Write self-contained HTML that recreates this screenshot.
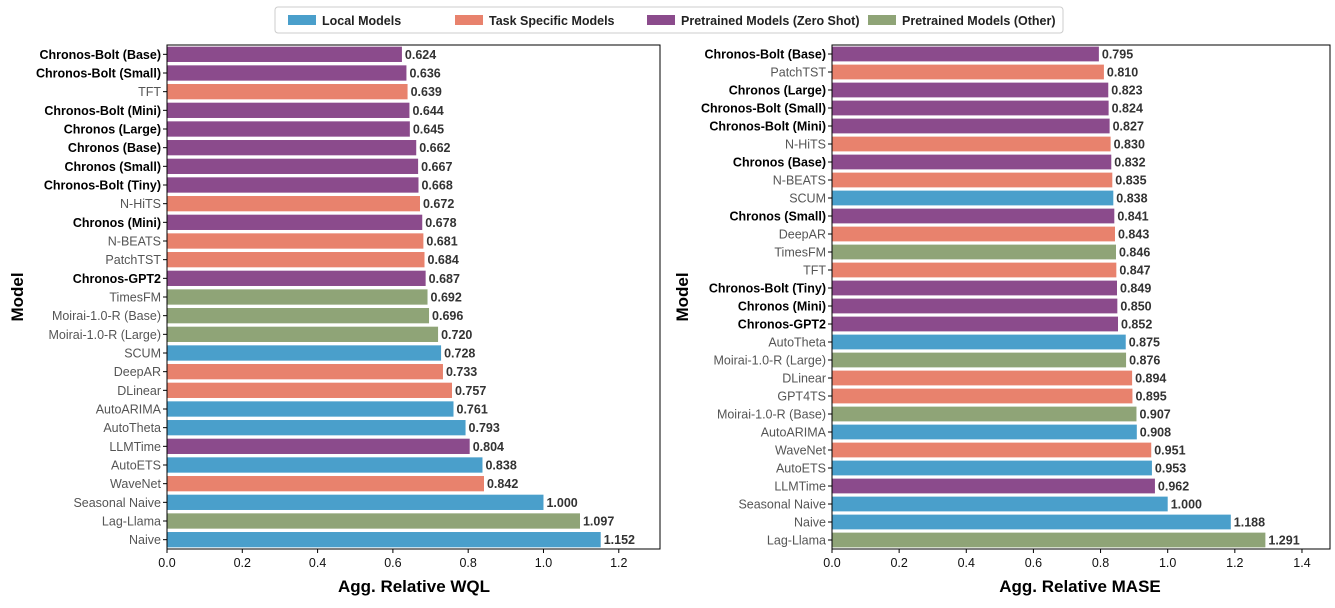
<!DOCTYPE html>
<html><head><meta charset="utf-8"><style>
body{margin:0;background:#fff;}
svg text{font-family:"Liberation Sans",sans-serif;}
</style></head><body>
<svg id="chart" width="1335" height="603" xmlns="http://www.w3.org/2000/svg">
<g id="legend">
<rect x="275" y="7" width="788" height="26" fill="#fff" stroke="#ccc" rx="3"/>
</g>
<g id="left"></g>
<g id="right"></g>
</svg>
<script>
const colors = {L:'#4a9fcb', T:'#e8826d', Z:'#8b4b8c', O:'#8fa477'};
const legendLabels = ['Local Models','Task Specific Models','Pretrained Models (Zero Shot)','Pretrained Models (Other)'];
const legendKeys = ['L','T','Z','O'];

const wqlModels = ['Chronos-Bolt (Base)','Chronos-Bolt (Small)','TFT','Chronos-Bolt (Mini)','Chronos (Large)','Chronos (Base)','Chronos (Small)','Chronos-Bolt (Tiny)','N-HiTS','Chronos (Mini)','N-BEATS','PatchTST','Chronos-GPT2','TimesFM','Moirai-1.0-R (Base)','Moirai-1.0-R (Large)','SCUM','DeepAR','DLinear','AutoARIMA','AutoTheta','LLMTime','AutoETS','WaveNet','Seasonal Naive','Lag-Llama','Naive'];
const wqlValues = [0.624,0.636,0.639,0.644,0.645,0.662,0.667,0.668,0.672,0.678,0.681,0.684,0.687,0.692,0.696,0.720,0.728,0.733,0.757,0.761,0.793,0.804,0.838,0.842,1.000,1.097,1.152];
const wqlTypes = ['Z','Z','T','Z','Z','Z','Z','Z','T','Z','T','T','Z','O','O','O','L','T','T','L','L','Z','L','T','L','O','L'];
const wqlTicks = [0,0.2,0.4,0.6,0.8,1.0,1.2];

const maseModels = ['Chronos-Bolt (Base)','PatchTST','Chronos (Large)','Chronos-Bolt (Small)','Chronos-Bolt (Mini)','N-HiTS','Chronos (Base)','N-BEATS','SCUM','Chronos (Small)','DeepAR','TimesFM','TFT','Chronos-Bolt (Tiny)','Chronos (Mini)','Chronos-GPT2','AutoTheta','Moirai-1.0-R (Large)','DLinear','GPT4TS','Moirai-1.0-R (Base)','AutoARIMA','WaveNet','AutoETS','LLMTime','Seasonal Naive','Naive','Lag-Llama'];
const maseValues = [0.795,0.810,0.823,0.824,0.827,0.830,0.832,0.835,0.838,0.841,0.843,0.846,0.847,0.849,0.850,0.852,0.875,0.876,0.894,0.895,0.907,0.908,0.951,0.953,0.962,1.000,1.188,1.291];
const maseTypes = ['Z','T','Z','Z','Z','T','Z','T','L','Z','T','O','T','Z','Z','Z','L','O','T','T','O','L','T','L','Z','L','L','O'];
const maseTicks = [0,0.2,0.4,0.6,0.8,1.0,1.2,1.4];

const NS='http://www.w3.org/2000/svg';
function mk(tag,attrs,parent,text){const e=document.createElementNS(NS,tag);for(const k in attrs)e.setAttribute(k,attrs[k]);if(text!==undefined)e.textContent=text;parent.appendChild(e);return e;}

// legend
const lg=document.getElementById('legend');
const lx=[288,455,647,868];
legendLabels.forEach((l,i)=>{
  const r=mk('rect',{x:lx[i],y:15,width:28,height:10,fill:colors[legendKeys[i]]},lg);
  
  
  const t=mk('text',{x:lx[i]+34,y:25,'font-size':12.5,'font-weight':'bold',fill:'#222'},lg,l);
  
  
});

function draw(gid,models,values,types,ticks,x0,x1,xmax,xlabel,xlabelX){
  const g=document.getElementById(gid);
  const top=45,bot=549;
  const sx=v=>x0+v/xmax*(x1-x0);
  const n=models.length;const step=(bot-top)/n;
  const sy=i=>top+step*(i+0.5);
  const bh=step*0.82;
  models.forEach((m,i)=>{
    const b=mk('rect',{x:sx(0),y:sy(i)-bh/2,width:sx(values[i])-sx(0),height:bh,fill:colors[types[i]]},g);
    
    
    const v=mk('text',{x:sx(values[i])+3,y:sy(i)+4.5,'font-size':12.5,'font-weight':'bold',fill:'#333'},g,values[i].toFixed(3));
    
    
    const bold=m.startsWith('Chronos');
    const l=mk('text',{x:x0-6,y:sy(i)+4.5,'font-size':12.5,'text-anchor':'end','font-weight':bold?'bold':'normal',fill:bold?'#000':'#555'},g,m);
    
    
    mk('line',{x1:x0-4,x2:x0,y1:sy(i),y2:sy(i),stroke:'#000'},g);
  });
  ticks.forEach(t=>{
    mk('line',{x1:sx(t),x2:sx(t),y1:bot,y2:bot+4,stroke:'#000'},g);
    const tl=mk('text',{x:sx(t),y:bot+18,'font-size':12.5,'text-anchor':'middle',fill:'#111'},g,t.toFixed(1));
    
    
  });
  const f=mk('rect',{x:x0,y:top,width:x1-x0,height:bot-top,fill:'none',stroke:'#000','stroke-width':1},g);
  
  
  const xt=mk('text',{x:xlabelX,y:592,'font-size':17,'font-weight':'bold','text-anchor':'middle'},g,xlabel);
  
  
}
draw('left',wqlModels,wqlValues,wqlTypes,wqlTicks,167,660,1.3095,'Agg. Relative WQL',414);
draw('right',maseModels,maseValues,maseTypes,maseTicks,832,1330,1.4835,'Agg. Relative MASE',1080);
const svg=document.getElementById('chart');
const y1=mk('text',{x:0,y:0,'font-size':17,'font-weight':'bold','text-anchor':'middle',transform:'translate(23,297) rotate(-90)'},svg,'Model');


const y2=mk('text',{x:0,y:0,'font-size':17,'font-weight':'bold','text-anchor':'middle',transform:'translate(688,297) rotate(-90)'},svg,'Model');


</script>
</body></html>
